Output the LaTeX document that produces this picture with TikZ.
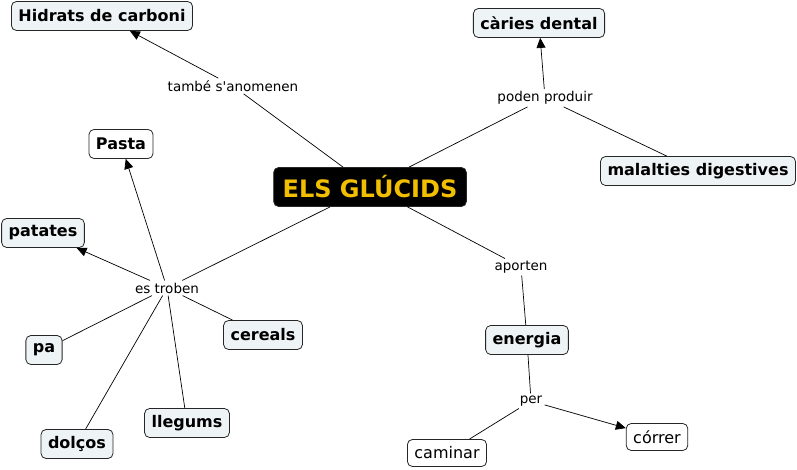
\documentclass[tikz,border=0pt]{standalone}
\usepackage{fontspec}
\setmainfont{DejaVu Sans}
\usetikzlibrary{arrows.meta,positioning}
\definecolor{ConceptFill}{RGB}{238,243,245}
\definecolor{TitleYellow}{RGB}{242,190,0}

\begin{document}
\begin{tikzpicture}[x=1pt,y=-1pt,
        cpt/.style={draw=black!85,fill=ConceptFill,rounded corners=5pt,line width=0.8pt,
                    font=\fontsize{16}{19}\selectfont\bfseries,inner xsep=7pt,minimum height=29pt},
        plain/.style={cpt,fill=white,font=\fontsize{16}{19}\selectfont,minimum height=27pt},
        lnk/.style={font=\fontsize{13.5}{16}\selectfont,inner sep=2pt},
        arr/.style={-{Triangle[length=10pt,width=9pt]}},
        every path/.style={line width=0.7pt}
      ]
        \useasboundingbox (0,0) rectangle (797,470);
        \node[cpt,fill=black,text=TitleYellow,font=\fontsize{24}{28}\selectfont\bfseries,
              minimum height=39pt,inner xsep=9pt] (top) at (370,187) {ELS GLÚCIDS};
        \node[cpt] (hid) at (102,16) {Hidrats de carboni};
        \node[cpt] (car) at (539,23) {càries dental};
        \node[cpt] (mal) at (698,171) {malalties digestives};
        \node[cpt,fill=white] (pas) at (121,144) {Pasta};
        \node[cpt] (pat) at (43,233) {patates};
        \node[cpt] (pa) at (44,350) {pa};
        \node[cpt] (cer) at (263,335) {cereals};
        \node[cpt] (lle) at (187,423) {llegums};
        \node[cpt] (dol) at (77,444) {dolços};
        \node[cpt] (ene) at (527,340) {energia};
        \node[plain] (cam) at (447,453) {caminar};
        \node[plain] (cor) at (657,437) {córrer};
        % linking phrases
        \node[lnk] (tam) at (233,86) {també s\textquotesingle anomenen};
        \node[lnk] (pod) at (545,98) {poden produir};
        \node[lnk] (tro) at (167,288) {es troben};
        \node[lnk] (apo) at (521,267) {aporten};
        \node[lnk] (per) at (531,401) {per};
        \draw (top)--(tam); \draw[arr] (tam)--(hid);
        \draw (top)--(pod); \draw[arr] (pod)--(car); \draw (mal)--(pod);
        \draw (top)--(tro);
        \draw[arr] (tro)--(pas); \draw[arr] (tro)--(pat);
        \draw (tro)--(pa); \draw (tro)--(cer);
        \draw (tro)--(lle); \draw (tro)--(dol);
        \draw (top)--(apo); \draw (apo)--(ene);
        \draw (ene)--(per); \draw[arr] (per)--(cor); \draw (per)--(cam);
      \end{tikzpicture}
\end{document}
